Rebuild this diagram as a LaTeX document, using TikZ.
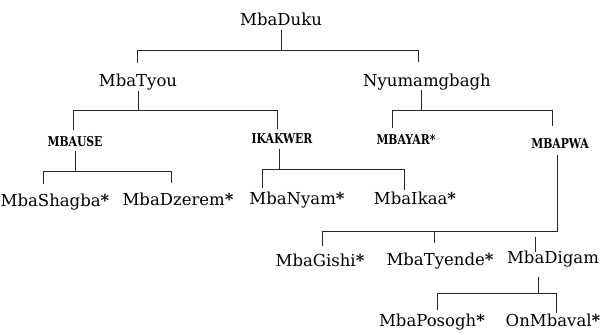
\documentclass[tikz,border=0pt]{standalone}
\usepackage{fontspec}
\usepackage{graphicx}
\setmainfont{DejaVu Serif}
\newcommand{\mystar}{\textbf{*}}
\newcommand{\clanname}[1]{\scalebox{0.8}[1]{#1}}
\begin{document}
\begin{tikzpicture}[x=1pt,y=-1pt,
  lbl/.style={font=\fontsize{16.5}{18}\selectfont, inner sep=0pt, anchor=base},
  clan/.style={font=\bfseries\fontsize{13.5}{15}\selectfont, inner sep=0pt, anchor=base},
  ln/.style={line width=0.9pt, draw=black!85}]
\useasboundingbox (0,0) rectangle (600,333);
% nodes
\node[lbl] (duku) at (281,25) {MbaDuku};
\node[lbl] (tyou) at (138,86) {MbaTyou};
\node[lbl] (nyum) at (427,86) {Nyumamgbagh};
\node[clan] (use) at (75,146) {\clanname{MBAUSE}};
\node[clan] (ikak) at (282,143) {\clanname{IKAKWER}};
\node[clan] (yar) at (406,144) {\clanname{MBAYAR*}};
\node[clan] (pwa) at (560,148) {\clanname{MBAPWA}};
\node[lbl] (shag) at (55,206) {MbaShagba\mystar};
\node[lbl] (dzer) at (178,205) {MbaDzerem\mystar};
\node[lbl] (nyam) at (297,204) {MbaNyam\mystar};
\node[lbl] (ikaa) at (415,204) {MbaIkaa\mystar};
\node[lbl] (gish) at (320,266) {MbaGishi\mystar};
\node[lbl] (tyen) at (440,265) {MbaTyende\mystar};
\node[lbl] (diga) at (553,263) {MbaDigam};
\node[lbl] (poso) at (432,326) {MbaPosogh\mystar};
\node[lbl] (onmb) at (553,326) {OnMbaval\mystar};
% connector ends
\coordinate (a0) at (281,30);  \coordinate (a1) at (137,63);  \coordinate (a2) at (418,62);
\coordinate (b0) at (138,91);  \coordinate (b1) at (73,130);   \coordinate (b2) at (277,129);
\coordinate (c0) at (421,90);  \coordinate (c1) at (392,128);  \coordinate (c2) at (552,126);
\coordinate (e0) at (75,151);  \coordinate (e1) at (43,184);   \coordinate (e2) at (171,183);
\coordinate (f0) at (279,149); \coordinate (f1) at (262,188);  \coordinate (f2) at (404,190);
\coordinate (g0) at (557,155); \coordinate (g1) at (322,246);  \coordinate (g2) at (434,243);
\coordinate (g3) at (535,237); \coordinate (g4) at (535,252);
\coordinate (h0) at (538,277); \coordinate (h1) at (437,310);  \coordinate (h2) at (556,313);
% connectors
\draw[ln] (a0) -- (a0 |- 0,50);
\draw[ln] (a1) |- (a2 |- 0,50) -- (a2);
\draw[ln] (b0) -- (b0 |- 0,110);
\draw[ln] (b1) |- (b2 |- 0,110) -- (b2);
\draw[ln] (c0) -- (c0 |- 0,110);
\draw[ln] (c1) |- (c2 |- 0,110) -- (c2);
\draw[ln] (e0) -- (e0 |- 0,171);
\draw[ln] (e1) |- (e2 |- 0,171) -- (e2);
\draw[ln] (f0) -- (f0 |- 0,169);
\draw[ln] (f1) |- (f2 |- 0,169) -- (f2);
\draw[ln] (g1) |- (g0 |- 0,231) -- (g0);
\draw[ln] (g2) -- (g2 |- 0,231);
\draw[ln] (g3) -- (g4);
\draw[ln] (h0) -- (h0 |- 0,293);
\draw[ln] (h1) |- (h2 |- 0,293) -- (h2);
\end{tikzpicture}
\end{document}
